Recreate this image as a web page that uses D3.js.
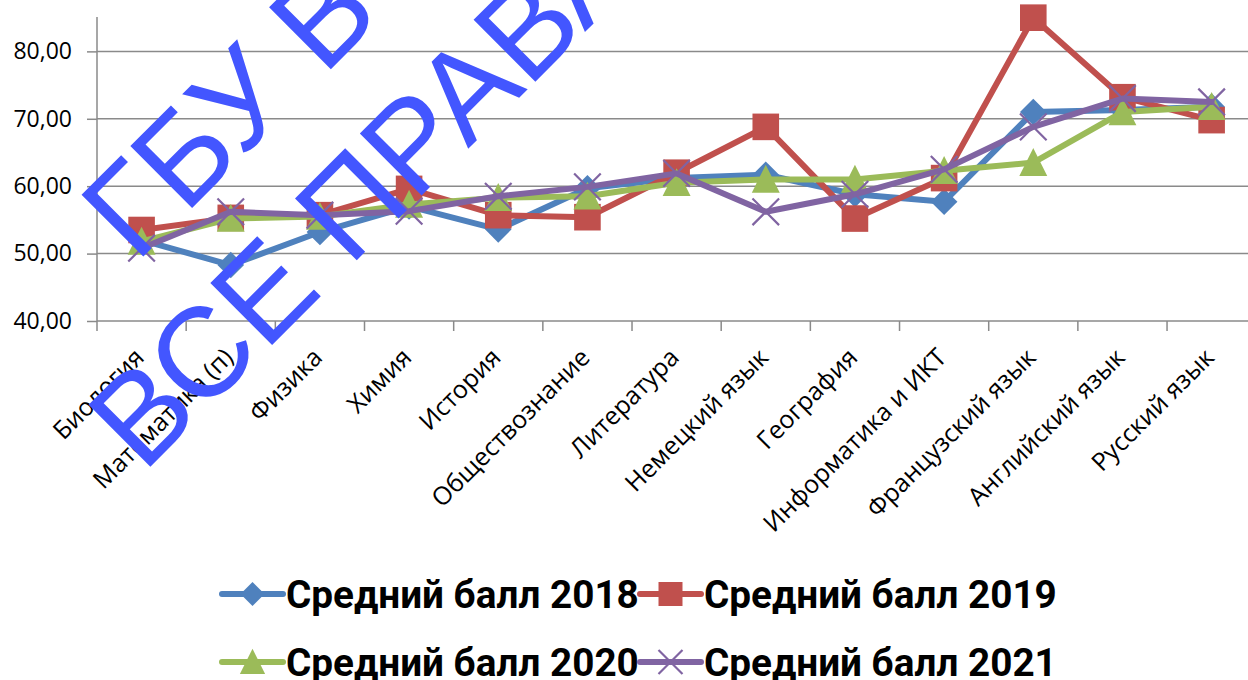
<!DOCTYPE html>
<html>
<head>
<meta charset="utf-8">
<script src="https://cdn.jsdelivr.net/npm/d3@7"></script>
<style>
  html, body { margin: 0; padding: 0; background: #fff; }
  svg { display: block; }
</style>
</head>
<body>
<svg id="chart" width="1248" height="680"></svg>
<script>
// categories and values
const subjects = ['Биология', 'Математика (п)', 'Физика', 'Химия', 'История', 'Обществознание',
  'Литература', 'Немецкий язык', 'География', 'Информатика и ИКТ', 'Французский язык',
  'Английский язык', 'Русский язык']
const score2018 = [52.0, 48.3, 53.2, 57.0, 53.6, 59.7, 61.2, 61.7, 58.8, 57.7, 71.0, 71.3, 71.8]
const score2019 = [53.5, 55.3, 55.7, 59.6, 55.7, 55.4, 62.0, 68.8, 55.2, 61.2, 85.0, 73.2, 69.8]
const score2020 = [51.8, 55.2, 55.5, 57.3, 58.3, 58.5, 60.5, 61.0, 61.0, 62.3, 63.5, 71.0, 71.8]
const score2021 = [50.8, 56.2, 55.7, 56.3, 58.5, 59.9, 61.9, 56.2, 58.8, 62.5, 68.8, 73.0, 72.5]
const seriesNames = ['Средний балл 2018', 'Средний балл 2019', 'Средний балл 2020', 'Средний балл 2021']
const yTicks = [40, 50, 60, 70, 80]
const watermarkLines = ['ГБУ В', 'ВСЕ ПРАВА']

const colors = ['#4f81bd', '#c0504d', '#9bbb59', '#8064a2']
const markers = ['diamond', 'square', 'triangle', 'x']
const series = [score2018, score2019, score2020, score2021].map((vals, i) => ({
  name: seriesNames[i], color: colors[i], marker: markers[i],
  points: vals.map((v, j) => ({ cat: subjects[j], v: v }))
}))

const svg = d3.select('#chart')
const plotLeft = 97, plotTop = 17, plotBottom = 321, bandW = 89.17

const x = d3.scaleBand().domain(subjects).range([plotLeft, plotLeft + subjects.length * bandW])
const y = d3.scaleLinear().domain([40, 85.1]).range([plotBottom, plotTop])

svg.append('rect').attr('width', 1248).attr('height', 680).attr('fill', '#fff')

// gridlines + y axis
const yAxis = d3.axisLeft(y)
  .tickValues(yTicks)
  .tickSize(10)
  .tickFormat(d => d3.format('.2f')(d).replace('.', ','))
const gy = svg.append('g').attr('transform', `translate(${plotLeft},0)`)
gy.selectAll('.grid').data(yTicks).join('line')
  .attr('class', 'grid')
  .attr('x1', 0).attr('x2', x.range()[1] - plotLeft)
  .attr('y1', d => y(d)).attr('y2', d => y(d))
  .attr('stroke', '#8a8a8a').attr('stroke-width', 1.5)
gy.call(yAxis)
gy.select('.domain').attr('stroke', '#8a8a8a').attr('stroke-width', 1.5)
  .attr('d', `M0,${plotTop}V${plotBottom}`)
gy.selectAll('.tick line').attr('stroke', '#8a8a8a').attr('stroke-width', 1.5)
gy.selectAll('.tick text')
  .attr('x', -25)
  .attr('font-family', '"Open Sans", sans-serif')
  .attr('font-size', 23)
  .attr('fill', '#000')

// x axis: ticks between categories
const bounds = subjects.map(s => x(s)).concat([x.range()[1]])
svg.append('g').selectAll('line').data(bounds).join('line')
  .attr('x1', d => d).attr('x2', d => d)
  .attr('y1', plotBottom).attr('y2', plotBottom + 10)
  .attr('stroke', '#8a8a8a').attr('stroke-width', 1.5)

svg.append('g').selectAll('text').data(subjects).join('text')
  .attr('transform', d => `translate(${x(d) + x.bandwidth() / 2 + 4},359) rotate(-45)`)
  .attr('text-anchor', 'end')
  .attr('font-family', '"Open Sans", sans-serif')
  .attr('font-size', 25)
  .attr('fill', '#000')
  .text(d => d)

// marker shapes
function markerPath(kind, s) {
  if (kind === 'diamond') return `M0,${-s}L${s},0L0,${s}L${-s},0Z`
  if (kind === 'square') return `M${-s},${-s}H${s}V${s}H${-s}Z`
  if (kind === 'triangle') return `M0,${-s * 1.1}L${s * 1.05},${s}L${-s * 1.05},${s}Z`
  return `M${-s},${-s}L${s},${s}M${-s},${s}L${s},${-s}`
}
function drawMarker(sel, d, s) {
  sel.append('path')
    .attr('d', markerPath(d.marker, s))
    .attr('fill', d.marker === 'x' ? 'none' : d.color)
    .attr('stroke', d.color)
    .attr('stroke-width', d.marker === 'x' ? 2.2 : 0)
}

const line = d3.line().x(p => x(p.cat) + x.bandwidth() / 2).y(p => y(p.v))

series.forEach(s => {
  const g = svg.append('g')
  g.append('path').datum(s.points)
    .attr('d', line)
    .attr('fill', 'none')
    .attr('stroke', s.color)
    .attr('stroke-width', 6)
    .attr('stroke-linejoin', 'round')
    .attr('stroke-linecap', 'round')
  g.selectAll('g.pt').data(s.points).join('g')
    .attr('class', 'pt')
    .attr('transform', p => `translate(${x(p.cat) + x.bandwidth() / 2},${y(p.v)})`)
    .each(function () { drawMarker(d3.select(this), s, 13.3) })
})

// legend
const legendX = [222, 640]
const legendY = [594, 662]
const legend = svg.append('g')
series.forEach((s, i) => {
  const lx = legendX[i % 2], ly = legendY[Math.floor(i / 2)]
  const g = legend.append('g').attr('transform', `translate(${lx},${ly})`)
  g.append('line').attr('x1', 0).attr('x2', 61).attr('y1', 0).attr('y2', 0)
    .attr('stroke', s.color).attr('stroke-width', 6).attr('stroke-linecap', 'round')
  const m = g.append('g').attr('transform', 'translate(30.5,0)')
  drawMarker(m, s, 12)
  const t = g.append('text')
    .attr('x', 64).attr('y', 0).attr('dy', '0.36em')
    .attr('font-family', 'Roboto, sans-serif')
    .attr('font-weight', 700)
    .attr('font-size', 36)
    .attr('fill', '#000')
    .text(s.name)
  // fit text width to ~353px like the original
  const w = t.node().getComputedTextLength()
  t.attr('font-size', 36 * 353 / w)
})

// watermark
const wm = svg.append('g')
  .attr('font-family', '"Liberation Sans", Arial, sans-serif')
  .attr('font-size', 127)
  .attr('fill', '#4356ff')
const wmOrigins = [[136, 264], [143, 474]]
wm.selectAll('text').data(watermarkLines).join('text')
  .attr('transform', (d, i) => `translate(${wmOrigins[i][0]},${wmOrigins[i][1]}) rotate(-45)`)
  .text(d => d)
</script>
</body>
</html>
